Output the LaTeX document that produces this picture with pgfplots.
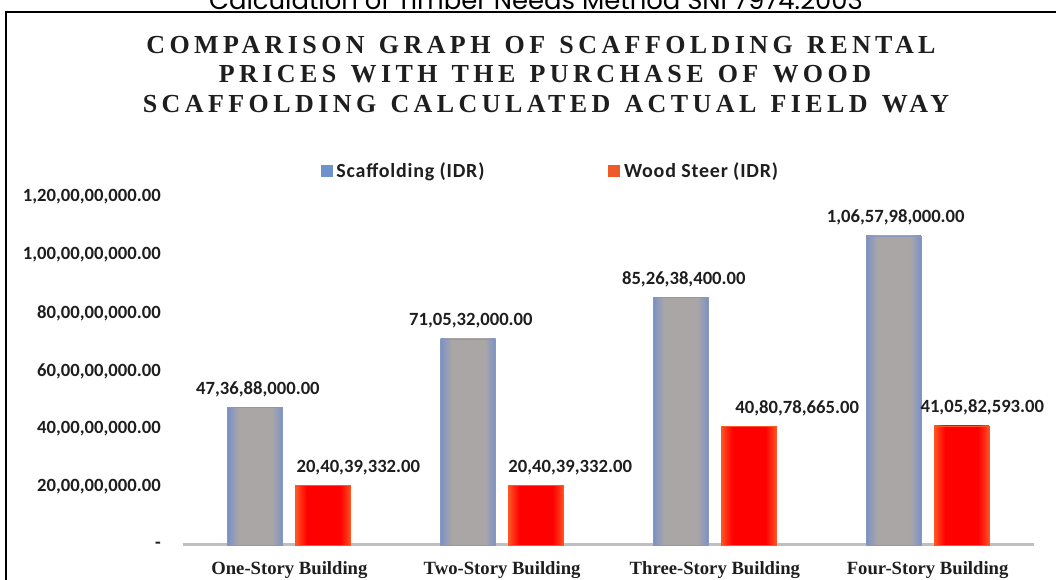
\documentclass[border=0pt]{standalone}
\usepackage{pgfplots}
\pgfplotsset{compat=1.18}
\usepackage{pgfplotstable}
\usepackage{fontspec}
\setmainfont{Liberation Serif}
\newfontfamily\calfont{Carlito}
\newfontfamily\titlefont{Liberation Serif}[LetterSpace=17,WordSpace=1.3]
\newfontfamily\capfont{Poppins}

\definecolor{bargray}{RGB}{170,166,166}
\definecolor{baredge}{RGB}{120,145,200}
\definecolor{barred}{RGB}{255,0,0}
\definecolor{rededge}{RGB}{255,85,35}
\definecolor{legblue}{RGB}{112,146,204}
\definecolor{legred}{RGB}{240,90,40}
\definecolor{axisgray}{RGB}{191,191,191}
\definecolor{txt}{RGB}{30,30,30}

% the bar's box is mapped to 25bp..75bp of the shading
\pgfdeclarehorizontalshading{scafshade}{100bp}{color(0bp)=(baredge); color(25bp)=(baredge); color(29bp)=(baredge!55!bargray); color(35bp)=(bargray); color(65bp)=(bargray); color(71bp)=(baredge!55!bargray); color(75bp)=(baredge); color(100bp)=(baredge)}
\pgfdeclarehorizontalshading{woodshade}{100bp}{color(0bp)=(rededge); color(25bp)=(rededge); color(29bp)=(rededge!55!barred); color(35bp)=(barred); color(65bp)=(barred); color(71bp)=(rededge!55!barred); color(75bp)=(rededge); color(100bp)=(rededge)}

% one plot per bar, so that each bar gets its own shading
\newcommand{\scafbar}[2]{\addplot[ybar, bar width=41.25pt, bar shift=-25.5pt, shading=scafshade,
  draw=baredge!70!bargray, line width=0.6pt, forget plot] coordinates {(#1,#2)};}
\newcommand{\woodbar}[2]{\addplot[ybar, bar width=41.25pt, bar shift=25.5pt, shading=woodshade,
  draw=rededge, line width=0.6pt, forget plot] coordinates {(#1,#2)};}

% label positions, values in crore (1e7 IDR)
\pgfplotstableread{
x y lab
-0.148 47.3688 47,36,88,000.00
0.853 71.0532 71,05,32,000.00
1.854 85.26384 85,26,38,400.00
2.850 106.5798 1,06,57,98,000.00
}\scaflab

\pgfplotstableread{
x y lab
0.324 20.4039332 20,40,39,332.00
1.320 20.4039332 20,40,39,332.00
2.387 40.8078665 40,80,78,665.00
3.257 41.0582593 41,05,82,593.00
}\woodlab

\begin{document}
\begin{tikzpicture}[x=0.75pt,y=0.75pt]
\useasboundingbox (0,0) rectangle (1056,580);
% text of the page above the chart, cut by the crop
\node[font=\capfont\fontsize{19.4}{21}\selectfont, anchor=base] at (536,570)
  {Calculation of Timber Needs Method SNI 7974:2003};
\draw[line width=1.5pt] (6,-20) -- (6,568) -- (1090,568);

\node[font=\titlefont\bfseries\fontsize{19.5}{22}\selectfont, txt] at (541,535)
  {COMPARISON GRAPH OF SCAFFOLDING RENTAL};
\node[font=\titlefont\bfseries\fontsize{19.5}{22}\selectfont, txt] at (545,506)
  {PRICES WITH THE PURCHASE OF WOOD};
\node[font=\titlefont\bfseries\fontsize{19.5}{22}\selectfont, txt] at (546,476)
  {SCAFFOLDING CALCULATED ACTUAL FIELD WAY};

\begin{axis}[
    at={(137.25pt,26.25pt)}, anchor=south west,
    scale only axis, width=638.25pt, height=261pt,
    xmin=-0.5, xmax=3.5, ymin=0, ymax=120,
    clip=false,
    axis lines*=left,
    y axis line style={draw=none},
    x axis line style={draw=axisgray, line width=2.25pt},
    major tick length=0pt,
    xtick={0,1,2,3},
    xticklabels={One-Story Building, Two-Story Building, Three-Story Building, Four-Story Building},
    xticklabel style={font=\bfseries\fontsize{14}{16}\selectfont, text=txt, inner sep=0pt, anchor=north, yshift=-12pt},
    ytick={0,20,40,60,80,100,120},
    yticklabels={-, {20,00,00,000.00}, {40,00,00,000.00}, {60,00,00,000.00}, {80,00,00,000.00}, {1,00,00,00,000.00}, {1,20,00,00,000.00}},
    yticklabel style={font=\calfont\bfseries\fontsize{14}{16}\selectfont, text=txt, inner sep=0pt, anchor=east, xshift=-16.5pt},
    legend columns=2,
    legend style={at={(0.433,1.075)}, anchor=center, draw=none, fill=none,
      font=\calfont\bfseries\fontsize{15}{17}\selectfont\addfontfeatures{LetterSpace=4},
      text=txt, nodes={inner xsep=3pt},
      /tikz/every even column/.append style={column sep=90pt}},
    legend cell align=left,
]
\scafbar{0}{47.3688}
\scafbar{1}{71.0532}
\scafbar{2}{85.26384}
\scafbar{3}{106.5798}
\woodbar{0}{20.4039332}
\woodbar{1}{20.4039332}
\woodbar{2}{40.8078665}
\woodbar{3}{41.0582593}

\addplot[draw=none, mark=none, forget plot, nodes near coords, point meta=explicit symbolic,
  every node near coord/.append style={font=\calfont\bfseries\fontsize{14}{16}\selectfont, text=txt, anchor=base, inner sep=0pt, yshift=10pt}]
  table[x=x,y=y,meta=lab]{\scaflab};
\addplot[draw=none, mark=none, forget plot, nodes near coords, point meta=explicit symbolic,
  every node near coord/.append style={font=\calfont\bfseries\fontsize{14}{16}\selectfont, text=txt, anchor=base, inner sep=0pt, yshift=10pt}]
  table[x=x,y=y,meta=lab]{\woodlab};

\addlegendimage{legend image code/.code={\fill[legblue] (0pt,-3.9pt) rectangle (8.25pt,3.9pt);}}
\addlegendentry{Scaffolding (IDR)}
\addlegendimage{legend image code/.code={\fill[legred] (0pt,-3.9pt) rectangle (8.25pt,3.9pt);}}
\addlegendentry{Wood Steer (IDR)}
\end{axis}
\end{tikzpicture}
\end{document}
